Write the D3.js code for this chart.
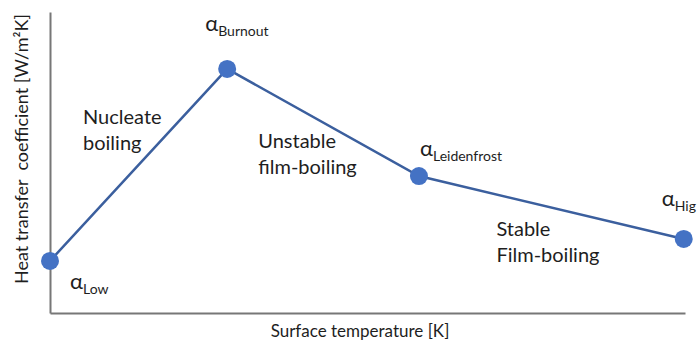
<!DOCTYPE html>
<html><head><meta charset="utf-8">
<script src="https://cdn.jsdelivr.net/npm/d3@7"></script>
<style>body{margin:0;background:#fff}svg{display:block}text{font-family:Lato,"Open Sans",sans-serif;fill:#1e1e1e;white-space:pre}</style>
</head><body><svg id="c" width="698" height="340"></svg>
<script>
const pointNames = ["Low", "Burnout", "Leidenfrost", "High"];
const pointSubs = ["Low", "Burnout", "Leidenfrost", "Hig"];
const temperature = [0, 27.9, 58.1, 99.8];
const htc = [17.3, 81.1, 45.5, 24.6];
const regimeLabels = [["Nucleate", "boiling"], ["Unstable", "film-boiling"], ["Stable", "Film-boiling"]];
const regimeX = [5.2, 32.8, 70.3];
const regimeY = [62.8, 54.9, 25.6];
const xTitle = "Surface temperature [K]";
const yTitle = "Heat transfer  coefficient [W/m\u00B2K]";

const svg = d3.select("#c");
const x = d3.scaleLinear().domain([0, 100]).range([50, 685]);
const y = d3.scaleLinear().domain([0, 100]).range([313, 12]);

const g = svg.append("g");
g.append("g").attr("transform", `translate(0,${y(0)})`)
  .call(d3.axisBottom(x).ticks(0).tickSize(0).tickFormat(""))
  .call(a => a.select(".domain").attr("stroke", "#777").attr("stroke-width", 2));
g.append("g").attr("transform", `translate(${x(0)},0)`)
  .call(d3.axisLeft(y).ticks(0).tickSize(0).tickFormat(""))
  .call(a => a.select(".domain").attr("stroke", "#777").attr("stroke-width", 2));

const data = temperature.map((t, i) => ({t, h: htc[i], name: pointNames[i], sub: pointSubs[i]}));
g.append("path").datum(data)
  .attr("fill", "none").attr("stroke", "#3b5f9e").attr("stroke-width", 2.5)
  .attr("d", d3.line().x(d => x(d.t)).y(d => y(d.h)));
g.selectAll("circle").data(data).join("circle")
  .attr("cx", d => x(d.t)).attr("cy", d => y(d.h)).attr("r", 9)
  .attr("fill", "#4472c4");

// alpha labels
const alphaOff = [[20, 28], [-22, -38], [1, -20], [-22, -33]];
data.forEach((d, i) => {
  const t = g.append("text")
    .attr("x", x(d.t) + alphaOff[i][0]).attr("y", y(d.h) + alphaOff[i][1])
    .attr("font-size", 22);
  t.append("tspan").text("\u03B1");
  t.append("tspan").attr("font-size", 14).attr("dy", 5).text(d.sub);
});

regimeLabels.forEach((lines, i) => {
  const t = g.append("text").attr("x", x(regimeX[i])).attr("y", y(regimeY[i])).attr("font-size", 20);
  lines.forEach((l, j) => t.append("tspan").attr("x", x(regimeX[i])).attr("dy", j ? 26 : 0).text(l));
});

svg.append("text").attr("x", 360).attr("y", 337).attr("text-anchor", "middle")
  .attr("font-size", 17).text(xTitle);
svg.append("text").attr("transform", "translate(28,149) rotate(-90)").attr("text-anchor", "middle")
  .attr("font-size", 18).text(yTitle);
</script></body></html>
